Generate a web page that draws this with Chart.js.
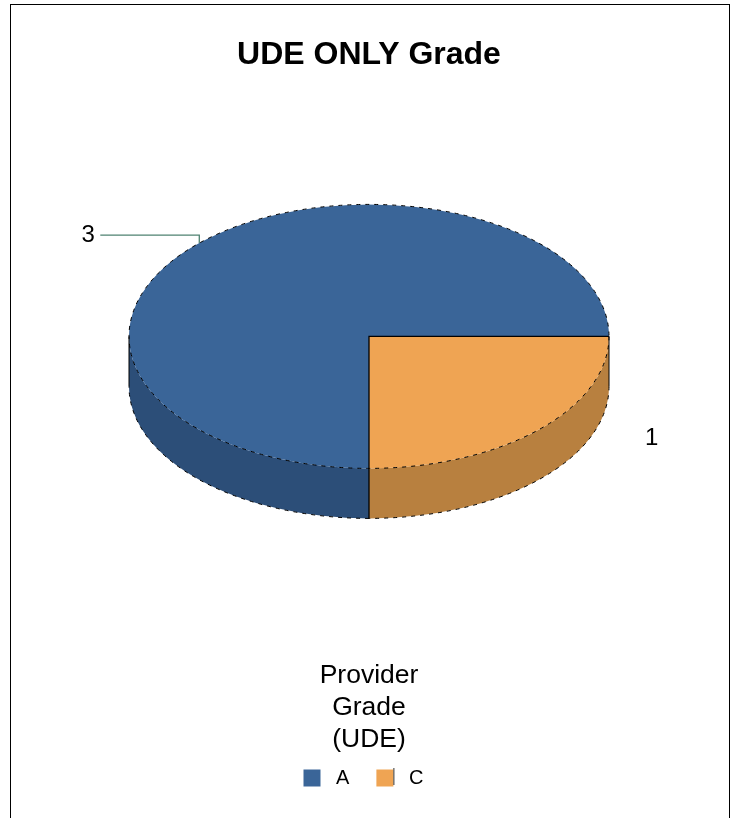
<!DOCTYPE html>
<html>
<head>
<meta charset="utf-8">
<title>UDE ONLY Grade</title>
<script src="https://cdn.jsdelivr.net/npm/chart.js@4"></script>
<style>
    html, body { margin: 0; background: #fff; overflow: hidden; }
    #frame { position: absolute; left: 10px; top: 4px; width: 718px; height: 830px; border: 1px solid #000; }
    canvas { position: absolute; left: 0; top: 0; }
</style>
</head>
<body>
<div id="frame"></div>
<canvas id="gradeChart" width="737" height="818"></canvas>
<script>
const grades = ['A', 'C'];
const counts = [3, 1];
const topColors = ['#3a6598', '#efa453'];
const sideColors = ['#2c4e78', '#b8803f'];
const chartTitle = 'UDE ONLY Grade';
const legendTitle = ['Provider', 'Grade', '(UDE)'];

const squash = 132 / 240;
const depth = 50;

// chart.js only does flat pies, so squash the arcs and draw the rim under them
const pie3d = {
    id: 'pie3d',
    beforeDatasetsDraw(chart) {
        const ctx = chart.ctx;
        const arcs = chart.getDatasetMeta(0).data;
        arcs.forEach((arc, i) => {
            const ry = arc.outerRadius * squash;
            [0, Math.PI * 2].forEach(k => {
                const s = Math.max(arc.startAngle - k, 0);
                const e = Math.min(arc.endAngle - k, Math.PI);
                if (e <= s) return;
                ctx.beginPath();
                ctx.ellipse(arc.x, arc.y, arc.outerRadius, ry, 0, s, e);
                ctx.ellipse(arc.x, arc.y + depth, arc.outerRadius, ry, 0, e, s, true);
                ctx.closePath();
                ctx.fillStyle = sideColors[i];
                ctx.fill();
                // bottom edge
                ctx.beginPath();
                ctx.ellipse(arc.x, arc.y + depth, arc.outerRadius, ry, 0, s, e);
                ctx.strokeStyle = '#000';
                ctx.lineWidth = 1;
                ctx.setLineDash([4, 5]);
                ctx.stroke();
                ctx.setLineDash([]);
            });
        });
        ctx.save();
        const c = arcs[0];
        ctx.translate(c.x, c.y);
        ctx.scale(1, squash);
        ctx.translate(-c.x, -c.y);
    },
    afterDatasetsDraw(chart) {
        const ctx = chart.ctx;
        ctx.restore();
        const arcs = chart.getDatasetMeta(0).data;
        const c = arcs[0];
        const rx = c.outerRadius, ry = rx * squash;

        // outline of the top face
        ctx.strokeStyle = '#000';
        ctx.lineWidth = 1;
        ctx.setLineDash([4, 5]);
        ctx.beginPath();
        ctx.ellipse(c.x, c.y, rx, ry, 0, 0, Math.PI * 2);
        ctx.stroke();
        ctx.setLineDash([]);

        // spokes and the front seam
        ctx.lineWidth = 1.3;
        ctx.beginPath();
        ctx.moveTo(c.x + rx, c.y);
        ctx.lineTo(c.x, c.y);
        ctx.lineTo(c.x, c.y + ry + depth);
        ctx.stroke();

        // left and right silhouette
        ctx.lineWidth = 1;
        ctx.beginPath();
        ctx.moveTo(c.x - rx, c.y);
        ctx.lineTo(c.x - rx, c.y + depth);
        ctx.moveTo(c.x + rx, c.y);
        ctx.lineTo(c.x + rx, c.y + depth);
        ctx.stroke();

        // value labels at the middle of each slice
        ctx.font = '24px "Liberation Sans"';
        ctx.fillStyle = '#000';
        ctx.textAlign = 'center';
        ctx.textBaseline = 'middle';
        arcs.forEach((arc, i) => {
            const mid = (arc.startAngle + arc.endAngle) / 2;
            const px = arc.x + Math.cos(mid) * rx;
            const py = arc.y + Math.sin(mid) * ry;
            if (Math.sin(mid) < 0) {
                ctx.strokeStyle = '#4f8271';
                ctx.lineWidth = 1.3;
                ctx.beginPath();
                ctx.moveTo(px, py);
                ctx.lineTo(px, py - 8);
                ctx.lineTo(px - 99, py - 8);
                ctx.stroke();
                ctx.fillText(String(counts[i]), px - 111, py - 8);
            } else {
                ctx.fillText(String(counts[i]), px + 113, py + 9);
            }
        });
    },
    afterDraw(chart) {
        // the C swatch has a dark sliver on its right side
        const box = chart.legend.legendHitBoxes[1];
        const ctx = chart.ctx;
        ctx.fillStyle = '#333';
        ctx.fillRect(box.left + 17, box.top, 1, 17);
    }
};

new Chart(document.getElementById('gradeChart'), {
    type: 'pie',
    data: {
        labels: grades,
        datasets: [{
            data: counts,
            backgroundColor: topColors,
            borderWidth: 0,
            radius: 240,
            rotation: 180
        }]
    },
    options: {
        responsive: false,
        animation: false,
        layout: { padding: { left: 1, bottom: 20 } },
        plugins: {
            tooltip: { enabled: false },
            title: {
                display: true,
                text: chartTitle,
                color: '#000',
                font: { family: '"Liberation Sans"', size: 32, weight: 'bold' },
                padding: { top: 36, bottom: 0 }
            },
            subtitle: {
                display: true,
                position: 'bottom',
                text: legendTitle,
                color: '#000',
                weight: 500,
                font: { family: '"Liberation Sans"', size: 26.5, weight: 'normal', lineHeight: 1.19 },
                padding: { top: 62, bottom: -14 }
            },
            legend: {
                position: 'bottom',
                labels: {
                    color: '#000',
                    boxWidth: 17,
                    boxHeight: 17,
                    padding: 27,
                    font: { family: '"Liberation Sans"', size: 20 },
                    // spaces: text sits further from the swatch and the row is off centre in the original
                    generateLabels: chart => grades.map((g, i) => ({
                        text: ' ' + g + (i === grades.length - 1 ? '  ' : ''),
                        fillStyle: topColors[i],
                        strokeStyle: topColors[i],
                        lineWidth: 0,
                        index: i
                    }))
                }
            }
        }
    },
    plugins: [pie3d]
});
</script>
</body>
</html>
